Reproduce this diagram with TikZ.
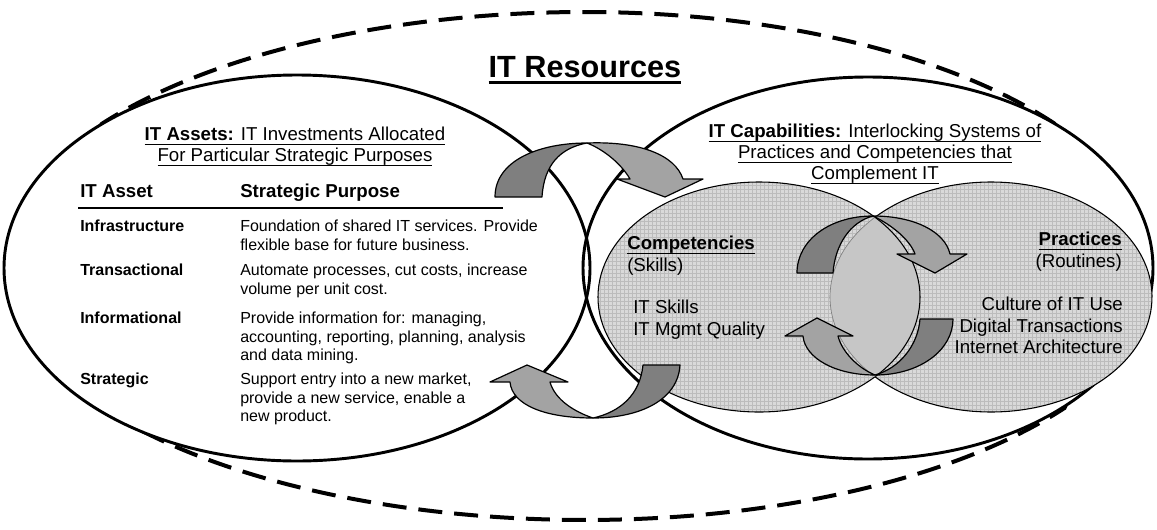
\documentclass[tikz,border=0pt]{standalone}
\usepackage{fontspec}
\setmainfont{Liberation Sans}
\usepackage{tikz}
\usetikzlibrary{patterns}
\definecolor{bandDark}{HTML}{7F7F7F}
\definecolor{bandLight}{HTML}{A3A3A3}
\definecolor{ballFill}{HTML}{D9D9D9}
\definecolor{ballGrid}{HTML}{BCBCBC}
\definecolor{lensFill}{HTML}{C6C6C6}

\newcommand{\undl}[3][0.75pt]{\setbox0\hbox{#3}\rlap{\rule[-#2]{\wd0}{#1}}\box0}

\begin{document}
\begin{tikzpicture}[x=0.75pt, y=-0.75pt,
  bigoval/.style={line width=2.2pt},
  darkband/.style={draw, line width=0.9pt, fill=bandDark, line join=round},
  lightband/.style={draw, line width=0.9pt, fill=bandLight, line join=round},
  headline/.style={font=\fontsize{14}{15.75}\selectfont, align=center, inner sep=0pt, anchor=north},
  colhead/.style={font=\fontsize{14}{16}\selectfont\bfseries, inner sep=0pt, anchor=base west},
  rowhead/.style={font=\fontsize{12}{13.8}\selectfont\bfseries, inner sep=0pt, anchor=base west},
  rowtext/.style={font=\fontsize{12}{13.8}\selectfont, align=left, inner sep=0pt, anchor=north west},
  skilltext/.style={font=\fontsize{14}{16.2}\selectfont, inner sep=0pt}]

  \useasboundingbox (0,0) rectangle (1157,529);
  \clip (0,0) rectangle (1157,529);

  \draw[line width=3pt, dash pattern=on 18pt off 9pt] (585,266) ++(-34:567 and 254)
    arc[start angle=-34, end angle=-90, x radius=567, y radius=254]
    arc[start angle=-90, end angle=-146, x radius=583, y radius=254]
    .. controls (60,200) and (60,330) .. (102,408)
    arc[start angle=-214, end angle=-270, x radius=583, y radius=254]
    arc[start angle=-270, end angle=-326, x radius=578, y radius=254]
    .. controls (1100,330) and (1100,200) .. cycle;

  \fill[white] (297,268) ellipse (293 and 193);
  \fill[white] (868,268) ellipse (285 and 191);
  \draw[bigoval] (297,268) ellipse (293 and 193);
  \draw[bigoval] (868,268) ellipse (285 and 191);

  \fill[ballFill, postaction={pattern=grid, pattern color=ballGrid}] (759,297) ellipse (161 and 115);
  \fill[ballFill, postaction={pattern=grid, pattern color=ballGrid}] (991,297) ellipse (161 and 115);
  \begin{scope}
    \clip (759,297) ellipse (161 and 115);
    \fill[lensFill] (991,297) ellipse (161 and 115);
  \end{scope}
  \draw[line width=0.8pt] (759,297) ellipse (161 and 115);
  \draw[line width=0.8pt] (991,297) ++(-136:161 and 115) arc[start angle=-136, end angle=136, x radius=161, y radius=115];
  \draw[gray, line width=0.5pt] (991,297) ++(136:161 and 115) arc[start angle=136, end angle=224, x radius=161, y radius=115];

  \draw[darkband] (495,197) .. controls (495,160) and (540,143) .. (587,143) .. controls (560,148) and (544,165) .. (542,197) -- cycle;
  \draw[lightband] (587,143) .. controls (640,141) and (675,155) .. (683,179) -- (703,179) -- (665,197) -- (617,179) -- (630,179) .. controls (622,165) and (605,150) .. (587,143) -- cycle;

  \draw[darkband] (680,365) .. controls (678,400) and (640,418) .. (593,418) .. controls (620,412) and (640,395) .. (643,365) -- cycle;
  \draw[lightband] (593,418) .. controls (545,418) and (512,405) .. (510,382) -- (490,382) -- (527,365) -- (568,382) -- (550,382) .. controls (555,400) and (575,412) .. (593,418) -- cycle;

  \draw[darkband] (797,273) .. controls (797,240) and (830,216) .. (873,216) .. controls (850,222) and (835,245) .. (833,273) -- cycle;
  \draw[lightband] (873,216) .. controls (915,216) and (945,232) .. (950,254) -- (967,254) -- (935,273) -- (897,254) -- (915,254) .. controls (910,240) and (892,225) .. (873,216) -- cycle;

  \draw[darkband] (953,319) .. controls (953,350) and (920,375) .. (875,375) .. controls (900,368) and (918,345) .. (920,319) -- cycle;
  \draw[lightband] (875,375) .. controls (835,375) and (805,358) .. (803,336) -- (785,336) -- (817,318) -- (853,336) -- (838,336) .. controls (842,352) and (858,368) .. (875,375) -- cycle;

  \node[font=\fontsize{23}{26}\selectfont\bfseries, inner sep=0pt, anchor=base] (title) at (585,77) {\undl[2.3pt]{5pt}{IT Resources}};

  \node[headline] (assets) at (295,127) {\undl{3pt}{\textbf{IT Assets:} IT Investments Allocated}\\ \undl{3pt}{For Particular Strategic Purposes}};
  \node[headline] (capab) at (875,124) {\undl{3pt}{\textbf{IT Capabilities:} Interlocking Systems of}\\ \undl{3pt}{Practices and Competencies that}\\ \undl{3pt}{Complement IT}};

  \node[colhead] (assethead) at (80,197) {IT Asset};
  \node[colhead] (purposehead) at (240,197) {Strategic Purpose};
  \draw[line width=1pt] (78,208) -- (503,208);

  \node[rowhead] (infra) at (80,231) {Infrastructure};
  \node[rowtext] (infratext) at (240,220) {Foundation of shared IT services. Provide\\flexible base for future business.};
  \node[rowhead] (trans) at (80,275) {Transactional};
  \node[rowtext] (transtext) at (240,264) {Automate processes, cut costs, increase\\volume per unit cost.};
  \node[rowhead] (inform) at (80,323) {Informational};
  \node[rowtext] (informtext) at (240,312) {Provide information for: managing,\\accounting, reporting, planning, analysis\\and data mining.};
  \node[rowhead] (strat) at (80,384) {Strategic};
  \node[rowtext] (strattext) at (240,373) {Support entry into a new market,\\provide a new service, enable a\\new product.};

  \node[skilltext, align=left, anchor=north west] (comp) at (627,236) {\undl{3pt}{\textbf{Competencies}}\\(Skills)};
  \node[skilltext, align=left, anchor=north west] (skills) at (633,300) {IT Skills\\IT Mgmt Quality};
  \node[skilltext, align=right, anchor=north east] (prac) at (1122,232) {\undl{3pt}{\textbf{Practices}}\\(Routines)};
  \node[skilltext, align=right, anchor=north east] (routines) at (1123,297) {Culture of IT Use\\Digital Transactions\\Internet Architecture};
\end{tikzpicture}
\end{document}
